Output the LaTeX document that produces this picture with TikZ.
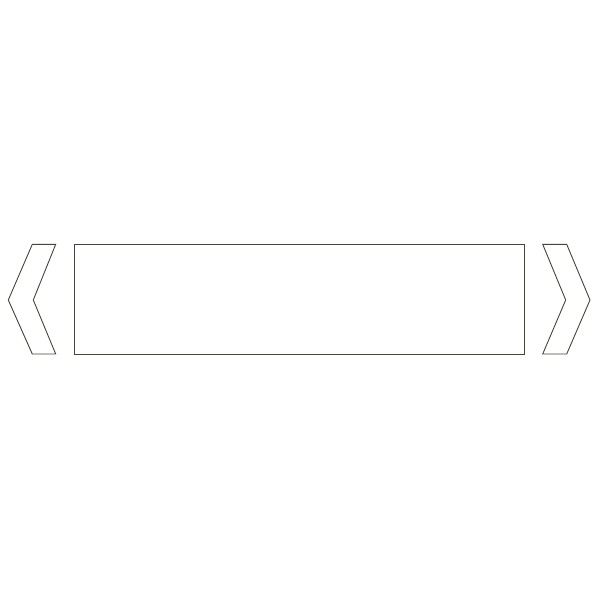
\documentclass[tikz,border=0pt]{standalone}
\begin{document}
\begin{tikzpicture}[x=1pt,y=-1pt,
  outline/.style={draw={rgb,255:red,70;green,68;blue,60},line width=0.9pt,line join=miter}]
\useasboundingbox (0,0) rectangle (600,600);
\fill[white] (0,0) rectangle (600,600);
\draw[outline] (32.3,244.3) -- (55.7,244.3) -- (33.3,300) -- (55.7,354) -- (32.3,354) -- (8.3,300) -- cycle;
\node[outline, minimum width=450.3pt, minimum height=109.7pt, inner sep=0pt, anchor=north west] (box) at (74,244.3) {};
\draw[outline] (542.7,244.3) -- (566.7,244.3) -- (590,300) -- (566.7,354) -- (542.7,354) -- (565.7,300) -- cycle;
\end{tikzpicture}
\end{document}
